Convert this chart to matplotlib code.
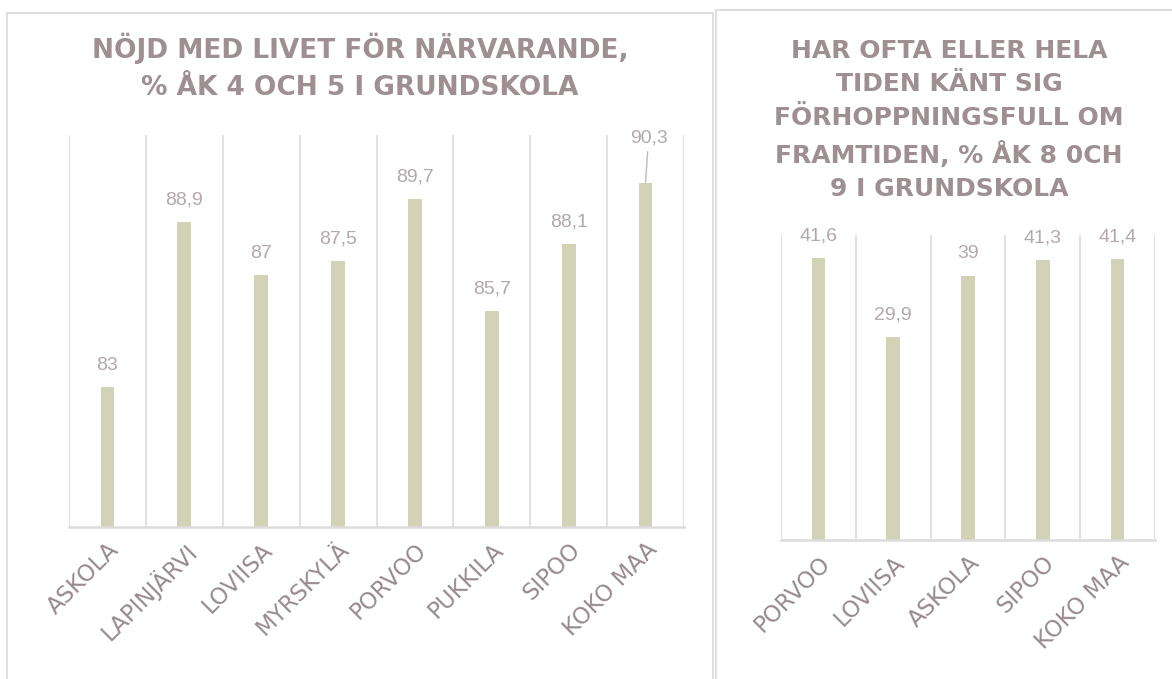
import numpy as np
import matplotlib
matplotlib.use("Agg")
import matplotlib.pyplot as plt
from matplotlib.patches import Rectangle

# left chart: satisfied with life, grades 4 and 5
left_cats = ["ASKOLA", "LAPINJÄRVI", "LOVIISA", "MYRSKYLÄ", "PORVOO", "PUKKILA", "SIPOO", "KOKO MAA"]
left_vals = [83, 88.9, 87, 87.5, 89.7, 85.7, 88.1, 90.3]
left_title = "NÖJD MED LIVET FÖR NÄRVARANDE,\n% ÅK 4 OCH 5 I GRUNDSKOLA"

# right chart: hopeful about the future, grades 8 and 9
right_cats = ["PORVOO", "LOVIISA", "ASKOLA", "SIPOO", "KOKO MAA"]
right_vals = [41.6, 29.9, 39, 41.3, 41.4]
right_title = ("HAR OFTA ELLER HELA\nTIDEN KÄNT SIG\nFÖRHOPPNINGSFULL OM\n"
               "FRAMTIDEN, % ÅK 8 0CH\n9 I GRUNDSKOLA")

BAR = "#d1d2b6"
GRID = "#e2e2e2"
TITLE_C = "#9d8f92"
LABEL_C = "#b3a8aa"
TICK_C = "#978a8d"


def fmt(v):
    s = f"{v:g}"
    return s.replace(".", ",")


def draw(ax, cats, vals, ylim, lifted=None):
    n = len(cats)
    x = np.arange(n)
    ax.bar(x, vals, width=0.18, color=BAR, zorder=2)
    ax.set_xlim(-0.5, n - 0.5)
    ax.set_ylim(*ylim)
    ax.set_xticks(x)
    ax.set_xticklabels(cats, rotation=45, ha="right", va="top",
                       rotation_mode="anchor", fontsize=16.5, color=TICK_C,
                       family="DejaVu Sans")
    ax.tick_params(axis="x", length=0, pad=8)
    ax.set_yticks([])
    ax.set_xticks(np.arange(n + 1) - 0.5, minor=True)
    ax.tick_params(axis="x", which="minor", length=0)
    ax.grid(which="minor", axis="x", color=GRID, lw=1.5, zorder=0)
    for s in ["top", "left", "right"]:
        ax.spines[s].set_visible(False)
    ax.spines["bottom"].set_color("#dcdcdc")
    ax.spines["bottom"].set_linewidth(1.8)
    ax.set_facecolor("none")
    for i, v in enumerate(vals):
        if i == lifted:
            ax.annotate(fmt(v), xy=(i, v), xytext=(3, 45), textcoords="offset pixels",
                        ha="center", va="center", fontsize=14, color=LABEL_C,
                        family="Liberation Sans",
                        arrowprops=dict(arrowstyle="-", color="#c4b8ba", lw=1,
                                        shrinkA=2, shrinkB=0))
        else:
            ax.annotate(fmt(v), xy=(i, v), xytext=(0, 22), textcoords="offset pixels",
                        ha="center", va="center", fontsize=14, color=LABEL_C,
                        family="Liberation Sans")


fig = plt.figure(figsize=(11.72, 6.79), dpi=100)
W, H = 1172, 679

# panel frames
fig.patches.append(Rectangle((7 / W, -0.05), (713 - 7) / W, 1.05 - 13 / H,
                             transform=fig.transFigure, fill=False,
                             ec="#dedede", lw=1.5))
fig.patches.append(Rectangle((716 / W, -0.05), 0.5, 1.05 - 10 / H,
                             transform=fig.transFigure, fill=False,
                             ec="#dedede", lw=1.5))

ax1 = fig.add_axes([69 / W, 1 - 527 / H, (684 - 69) / W, (527 - 135) / H])
draw(ax1, left_cats, left_vals, (78, 92), lifted=len(left_vals) - 1)

ax2 = fig.add_axes([781 / W, 1 - 540 / H, (1155 - 781) / W, (540 - 235) / H])
draw(ax2, right_cats, right_vals, (0, 45))

fig.text(360 / W, 1 - 67 / H, left_title, ha="center", va="center",
         fontsize=19, fontweight="bold", color=TITLE_C, family="DejaVu Sans",
         linespacing=1.55)
fig.text(949 / W, 1 - 120 / H, right_title, ha="center", va="center",
         fontsize=18, fontweight="bold", color=TITLE_C, family="DejaVu Sans",
         linespacing=1.5)

fig.savefig("out.png", dpi=100, facecolor="white")
